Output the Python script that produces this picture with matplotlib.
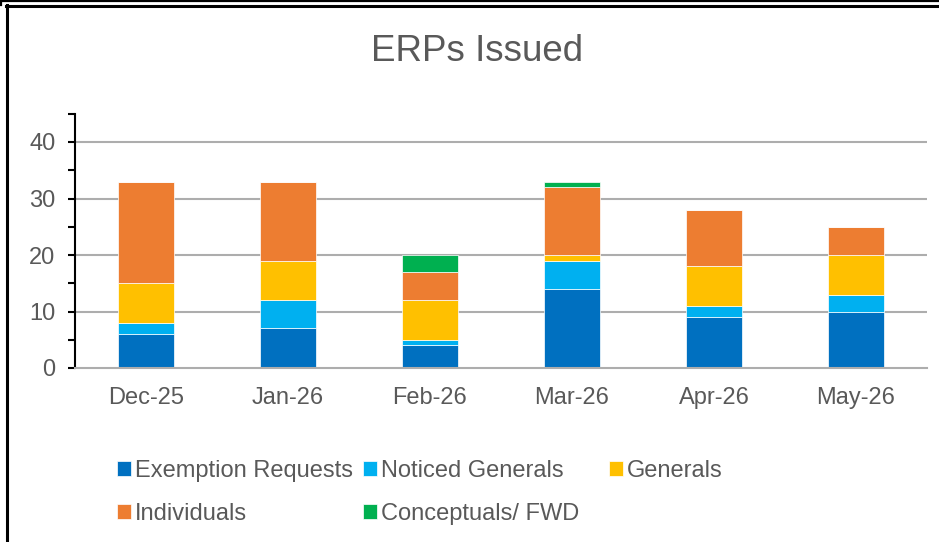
import matplotlib
matplotlib.use("Agg")
import matplotlib.pyplot as plt
from matplotlib.lines import Line2D
import numpy as np

plt.rcParams['font.family'] = ['Liberation Sans', 'DejaVu Sans']

categories = ["Dec-25", "Jan-26", "Feb-26", "Mar-26", "Apr-26", "May-26"]
exemption_requests = [6, 7, 4, 14, 9, 10]
noticed_generals = [2, 5, 1, 5, 2, 3]
generals = [7, 7, 7, 1, 7, 7]
individuals = [18, 14, 5, 12, 10, 5]
conceptuals_fwd = [0, 0, 3, 1, 0, 0]

series_names = ["Exemption Requests", "Noticed Generals", "Generals",
                "Individuals", "Conceptuals/ FWD"]
series_values = [exemption_requests, noticed_generals, generals,
                 individuals, conceptuals_fwd]
colors = ["#0070C0", "#00B0F0", "#FFC000", "#ED7D31", "#00B050"]
TEXT = "#595959"
GRID = "#ADADAD"

W, H = 939, 542
fig = plt.figure(figsize=(W / 100, H / 100), dpi=100)

def fx(px):
    return px / W

def fy(py):
    return 1 - py / H

ax = fig.add_axes([fx(75), fy(368), fx(927) - fx(75), fy(113.75) - fy(368)])

x = np.arange(len(categories))
bottom = np.zeros(len(categories))
handles = []
for name, vals, c in zip(series_names, series_values, colors):
    v = np.array(vals, dtype=float)
    b = ax.bar(x, v, width=0.4, bottom=bottom, color=c, edgecolor="#ffffff",
               linewidth=0.5, label=name, zorder=3)
    handles.append(b)
    bottom += v

ax.set_xlim(-0.5, len(categories) - 0.5)
ax.set_ylim(0, 45)
ax.set_yticks([0, 10, 20, 30, 40])
ax.set_yticks([5, 15, 25, 35, 45], minor=True)
ax.set_xticks(x)
ax.set_xticklabels(categories)

for yv in [10, 20, 30, 40]:
    ax.axhline(yv, color=GRID, linewidth=1.5, zorder=1)

for s in ["top", "right"]:
    ax.spines[s].set_visible(False)
ax.spines["left"].set_color("black")
ax.spines["left"].set_linewidth(1.5)
ax.spines["bottom"].set_color(GRID)
ax.spines["bottom"].set_linewidth(1.5)
ax.spines["bottom"].set_zorder(4)

ax.tick_params(axis="y", which="both", direction="out", length=5, width=1.5,
               color="black", labelsize=17, labelcolor=TEXT, pad=9)
ax.tick_params(axis="x", length=0, labelsize=17, labelcolor=TEXT, pad=14)

fig.text(fx(477.5), fy(51.5), "ERPs Issued", fontsize=26.5,
         color=TEXT, ha="center", va="center")

# Legend: three columns placed at fixed positions
fs = 17
fs_px = fs * 100 / 72
hl = 14 / fs_px
leg_kw = dict(frameon=False, fontsize=fs, labelcolor=TEXT, handlelength=hl,
              handleheight=hl, handletextpad=0.18, borderpad=0, borderaxespad=0,
              labelspacing=0.9)
cols = [([0, 3], 117), ([1, 4], 363), ([2], 609)]
for idx, xp in cols:
    fig.legend([handles[i] for i in idx], [series_names[i] for i in idx],
               loc="upper left", bbox_to_anchor=(fx(xp), fy(460)), **leg_kw)

# Frame lines around chart (from reference crop)
lines = [
    Line2D([0, 1], [fy(1), fy(1)], color="black", linewidth=1.6),
    Line2D([fx(0.8), fx(0.8)], [fy(0), fy(5)], color="black", linewidth=1.6),
    Line2D([fx(6), 1], [fy(6), fy(6)], color="black", linewidth=2.2),
    Line2D([fx(6.5), fx(6.5)], [fy(5), 0], color="black", linewidth=2.2),
]
for ln in lines:
    fig.add_artist(ln)

fig.savefig("out.png", dpi=100)
